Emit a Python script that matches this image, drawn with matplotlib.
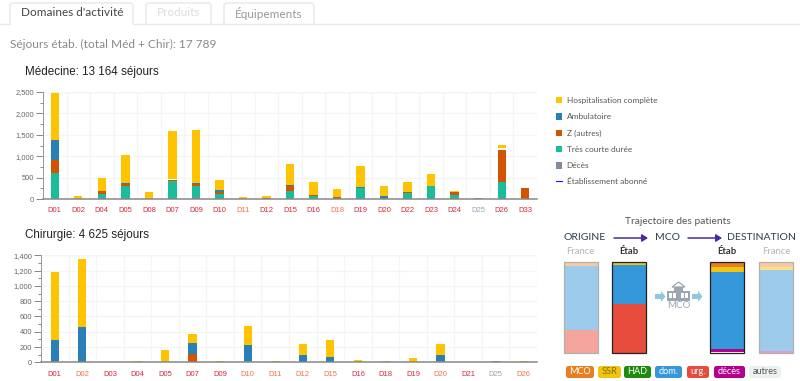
import matplotlib
matplotlib.use("Agg")
import matplotlib.pyplot as plt
from matplotlib.patches import FancyBboxPatch, Rectangle, Polygon
from matplotlib.ticker import MultipleLocator, StrMethodFormatter
import numpy as np

W, H = 800, 381
CRIM, SALM, GREY = "#d9283f", "#f4724a", "#93a3b5"

# --- Médecine
med_cats = ["D01","D02","D04","D05","D08","D07","D09","D10","D11","D12","D15","D16","D18","D19","D20","D22","D23","D24","D25","D26","D33"]
med_colors = [CRIM]*8 + [SALM, CRIM, CRIM, CRIM, SALM, CRIM, CRIM, CRIM, CRIM, CRIM, GREY, CRIM, CRIM]
med_deces = [0,0,0,0,0,0,40,0,0,0,0,0,0,0,0,0,0,0,25,0,0]
med_court = [610,0,125,300,0,415,270,120,0,0,180,60,25,260,0,140,295,100,0,390,0]
med_z     = [300,0,55,60,0,25,45,35,0,30,120,25,30,0,0,25,0,55,0,750,250]
med_amb   = [480,0,0,20,0,0,20,60,0,0,20,0,0,20,70,0,0,0,0,15,0]
med_gap   = [0,0,0,0,0,25,0,0,0,0,0,0,0,0,0,0,0,0,0,25,0]
med_hosp  = [1090,60,310,640,175,1135,1240,230,40,30,500,305,180,500,240,225,295,40,0,90,0]

# --- Chirurgie
chi_cats = ["D01","D02","D03","D04","D05","D07","D09","D10","D11","D12","D15","D16","D18","D19","D20","D21","D25","D26"]
chi_colors = [CRIM, SALM, CRIM, CRIM, CRIM, CRIM, CRIM, SALM, SALM, SALM, SALM, CRIM, CRIM, CRIM, SALM, CRIM, GREY, SALM]
chi_deces = [20,0,0,0,0,0,0,0,0,0,0,0,0,0,20,0,15,0]
chi_court = [0,0,0,0,0,0,0,20,0,0,0,0,0,0,0,0,0,0]
chi_z     = [0,0,0,0,0,105,0,0,0,0,0,0,0,0,0,0,0,0]
chi_amb   = [275,460,0,0,0,150,0,205,0,100,70,0,0,0,70,0,0,0]
chi_hosp  = [880,890,0,20,165,110,15,245,15,135,220,30,15,55,155,10,0,20]

# --- Légende
legend_labels = ["Hospitalisation complète","Ambulatoire","Z (autres)","Très courte durée","Décès"]
legend_line = "Établissement abonné"
C_HOSP, C_AMB, C_Z, C_COURT, C_DEC = "#ffc300", "#2980b9", "#d35400", "#1abc9c", "#7f8c9a"
legend_colors = [C_HOSP, C_AMB, C_Z, C_COURT, C_DEC]

# --- Trajectoire (parts en %, de bas en haut)
traj_cols = ["France","Étab","Étab","France"]
traj_shares = [[25.1,71.2,3.7],[54.2,42.8,2,1],[1.8,3,84.5,5.5,5.2],[3,88.5,3.3,5.2]]
traj_colors = [["#f5a59c","#9ccbec","#f9c9a0"],
               ["#e74c3c","#3498db","#f1c40f","#e67e22"],
               ["#ffffff","#b5008e","#3498db","#f1c40f","#e67e22"],
               ["#e49ad0","#9ccbec","#fbe08a","#f9c9a0"]]
chip_labels = ["MCO","SSR","HAD","dom.","urg.","décès","autres"]
chip_colors = ["#e67e22","#f1c40f","#1e8a0e","#3498db","#e74c3c","#b5008e","#ecf0f1"]
chip_text = ["#ffffff","#8a6d00","#ffffff","#ffffff","#ffffff","#ffffff","#555555"]

UI = "Lato"
SANS = "Liberation Sans"

fig = plt.figure(figsize=(W/100, H/100), dpi=100, facecolor="white")

def axpx(x0, y0, x1, y1, **kw):
    return fig.add_axes([x0/W, 1-y1/H, (x1-x0)/W, (y1-y0)/H], **kw)

def style(ax, cats, colors, major, top):
    n = len(cats)
    ax.set_xlim(-0.5, n-0.5)
    ax.set_ylim(0, top)
    ax.set_axisbelow(True)
    ax.yaxis.set_major_locator(MultipleLocator(major))
    ax.yaxis.set_minor_locator(MultipleLocator(major/2))
    ax.yaxis.set_major_formatter(StrMethodFormatter("{x:,.0f}"))
    ax.grid(axis="y", which="major", color="#f5f5f5", lw=1)
    for b in np.arange(n+1)-0.5:
        ax.axvline(b, color="#f5f5f5", lw=1, zorder=0)
    ax.axhline(top, color="#f5f5f5", lw=1, zorder=0)
    for s in ("top","right"):
        ax.spines[s].set_visible(False)
    ax.spines["left"].set_color("#999999")
    ax.spines["left"].set_linewidth(0.7)
    ax.spines["bottom"].set_color("#888888")
    ax.spines["bottom"].set_linewidth(1.1)
    ax.tick_params(axis="y", which="major", length=5, width=0.7, color="#888888", labelsize=5.4, labelcolor="#666666", pad=1.5)
    ax.tick_params(axis="y", which="minor", length=2.5, width=0.7, color="#888888")
    ax.set_xticks(range(n))
    ax.set_xticklabels(cats, fontsize=5.5)
    ax.tick_params(axis="x", length=0, pad=6)
    for t, c in zip(ax.get_xticklabels(), colors):
        t.set_color(c)
    for t in ax.get_xticklabels() + ax.get_yticklabels():
        t.set_fontfamily(SANS)

def stack(ax, width, series):
    base = np.zeros(len(series[0][0]))
    x = np.arange(len(base))
    for vals, col in series:
        vals = np.array(vals, float)
        ax.bar(x, vals, width, bottom=base, color=col, lw=0, zorder=2)
        base += vals

a1 = axpx(43, 92, 537, 199)
style(a1, med_cats, med_colors, 500, 2500)
stack(a1, 0.355, [(med_deces,C_DEC),(med_court,C_COURT),(med_z,C_Z),(med_amb,C_AMB),(med_gap,"#ffffff"),(med_hosp,C_HOSP)])

a2 = axpx(41, 255.3, 537, 362.3)
style(a2, chi_cats, chi_colors, 200, 1400)
stack(a2, 0.30, [(chi_deces,C_DEC),(chi_court,C_COURT),(chi_z,C_Z),(chi_amb,C_AMB),(chi_hosp,C_HOSP)])

# Couche en pixels pour l'interface
ov = fig.add_axes([0,0,1,1], zorder=-1)
ov.set_xlim(0, W); ov.set_ylim(H, 0); ov.axis("off")
ot = fig.add_axes([0,0,1,1], zorder=5)
ot.set_xlim(0, W); ot.set_ylim(H, 0); ot.axis("off"); ot.patch.set_alpha(0)

# Onglets
for x0, x1, active in [(10,133,True),(146,211,False),(224,314,False)]:
    ov.add_patch(FancyBboxPatch((x0, 3), x1-x0, 30, boxstyle="round,pad=0,rounding_size=3",
                                fc="white", ec="#e8e8e8", lw=1, clip_on=True))
ov.add_patch(Rectangle((0, 24), W, 12, fc="white", ec="none", zorder=3))
ov.plot([0, 10], [23.5, 23.5], color="#e8e8e8", lw=1, zorder=4)
ov.plot([133, W], [23.5, 23.5], color="#e8e8e8", lw=1, zorder=4)
for x, s, c in [(72,"Domaines d'activité","#444444"),(179,"Produits","#dddddd"),(269,"Équipements","#999999")]:
    ot.text(x, 13, s, color=c, fontsize=8.5, family=UI, ha="center", va="center")
ot.text(9.5, 44, "Séjours étab. (total Méd + Chir): 17 789", color="#8a8a8a", fontsize=8.6, family=UI, va="center")
ot.text(25, 72, "Médecine: 13 164 séjours", color="#222222", fontsize=8.4, family=SANS, va="center")
ot.text(25, 235, "Chirurgie: 4 625 séjours", color="#222222", fontsize=8.4, family=SANS, va="center")

# Légende
for y, lab, col in zip([100,116.5,133,149,165.5], legend_labels, legend_colors):
    ot.add_patch(Rectangle((556, y-3.2), 6.4, 6.4, fc=col, ec="none"))
    ot.text(566.7, y, lab, fontsize=5.95, family=UI, color="#555555", va="center")
ot.plot([556, 562.4], [181, 181], color="#1a1aee", lw=0.8)
ot.text(566.7, 181, legend_line, fontsize=5.95, family=UI, color="#555555", va="center")

# Trajectoire
ot.text(678, 221, "Trajectoire des patients", fontsize=7.4, family=UI, color="#555555", ha="center", va="center")
for x, s in [(585,"ORIGINE"),(667.5,"MCO"),(761,"DESTINATION")]:
    ot.text(x, 238, s, fontsize=7.5, family=UI, color="#2c3e50", ha="center", va="center", fontweight="normal")
for x0, x1 in [(614,648),(688,722)]:
    ot.annotate("", xy=(x1,238), xytext=(x0,238),
                arrowprops=dict(arrowstyle="-|>,head_width=0.22,head_length=0.35", color="#4a2a9c", lw=1.1, shrinkA=0, shrinkB=0))

tr = axpx(555, 262.3, 800, 353.3)
tr.set_xlim(555, 800); tr.set_ylim(0, 100); tr.axis("off"); tr.patch.set_alpha(0)
cols_x = [580.5, 629.3, 727.3, 776.3]
for x, name, shares, cols in zip(cols_x, traj_cols, traj_shares, traj_colors):
    base = 0
    for v, c in zip(shares, cols):
        tr.bar(x, v, 34, bottom=base, color=c, lw=0)
        base += v
    etab = name == "Étab"
    tr.bar(x, 100, 34, fill=False, ec="#222222" if etab else "#b0b0b0", lw=0.9, clip_on=False)
    ot.text(x, 252, name, fontsize=6.8, family=UI, ha="center", va="center",
            color="#333333" if etab else "#b5b5b5", fontweight="bold" if etab else "normal")

# Icône MCO
A = "#8fc6e0"; B = "#9aa7b0"
for x in (655, 692):
    ot.add_patch(Polygon([(x,294),(x+6,294),(x+6,291),(x+10.5,296.5),(x+6,302),(x+6,299),(x,299)], fc=A, ec="none"))
ot.add_patch(Rectangle((667, 291), 23, 10, fc=B, ec="none"))
ot.add_patch(Rectangle((674, 287), 9, 4, fc=B, ec="none"))
ot.add_patch(Polygon([(672,287),(678.5,282),(685,287)], fc="none", ec=B, lw=0.9))
for x in (669, 673, 681, 685):
    ot.add_patch(Rectangle((x, 293), 3, 5, fc="white", ec="none"))
ot.text(678.5, 306, "MCO", fontsize=7, family=UI, color="#9aa7b0", ha="center", va="center")

# Puces
for (x0, x1), lab, col, tc in zip([(566,594),(598,621),(624,651),(655,682),(687,709),(714,745),(749,781)],
                                  chip_labels, chip_colors, chip_text):
    ot.add_patch(FancyBboxPatch((x0, 366), x1-x0, 12, boxstyle="round,pad=0,rounding_size=2.5", fc=col, ec="none"))
    ot.text((x0+x1)/2, 372, lab, fontsize=6.6, family=UI, color=tc, ha="center", va="center")

fig.savefig("out.png", dpi=100)
